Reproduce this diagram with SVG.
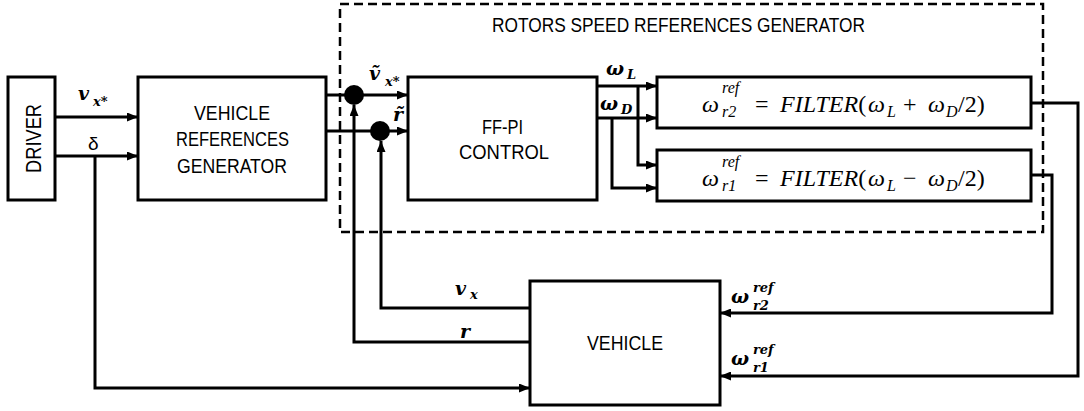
<svg xmlns="http://www.w3.org/2000/svg" width="1084" height="411" viewBox="0 0 1084 411">
<defs>
<marker id="ah" markerUnits="userSpaceOnUse" markerWidth="11" markerHeight="9" refX="11" refY="4.5" orient="auto">
<path d="M0,0 L11,4.5 L0,9 z" fill="#000"/>
</marker>
<style>
.box{fill:#fff;stroke:#000;stroke-width:3}
.ln{fill:none;stroke:#000;stroke-width:3}
.arr{fill:none;stroke:#000;stroke-width:3;marker-end:url(#ah)}
.t{font-family:"Liberation Sans",Arial,sans-serif;font-size:20px;fill:#000}
.m{font-family:"Liberation Serif","DejaVu Serif",serif;font-style:italic;font-size:24px;fill:#000}
.mu{font-family:"Liberation Serif","DejaVu Serif",serif;font-size:24px;fill:#000}
.ms{font-family:"Liberation Serif","DejaVu Serif",serif;font-style:italic;font-size:16px;fill:#000}
.b{font-family:"DejaVu Serif","Liberation Serif",serif;font-style:italic;font-weight:bold;font-size:19px;fill:#000}
.bs{font-family:"DejaVu Serif","Liberation Serif",serif;font-style:italic;font-weight:bold;font-size:13px;fill:#000}
</style>
</defs>
<rect width="1084" height="411" fill="#fff"/>

<g id="rotors-group">
<rect x="340" y="4" width="703" height="228" fill="none" stroke="#000" stroke-width="2.5" stroke-dasharray="9 5"/>
<text class="t" x="492" y="32" textLength="373" lengthAdjust="spacingAndGlyphs">ROTORS SPEED REFERENCES GENERATOR</text>
</g>

<g id="connectors">
<path class="arr" d="M55,117 H138"/>
<path class="arr" d="M55,156 H138"/>
<path class="arr" d="M95,156 V388 H530"/>
<path class="arr" d="M326,95 H408"/>
<path class="arr" d="M326,131 H408"/>
<path class="arr" d="M530,308 H381 V141"/>
<path class="arr" d="M530,342 H354 V105"/>
<path class="arr" d="M597,86 H657"/>
<path class="arr" d="M638,86 V165 H657"/>
<path class="arr" d="M597,118 H657"/>
<path class="arr" d="M612,118 V188 H657"/>
<path class="arr" d="M1031,103 H1078 V376 H720"/>
<path class="arr" d="M1031,175 H1052 V313 H720"/>
<circle cx="354" cy="95" r="10" fill="#000"/>
<circle cx="380" cy="131" r="10" fill="#000"/>
<text class="b" x="78" y="100">v</text><text class="bs" x="93" y="106">x*</text>
<text class="t" x="88" y="150" style="font-size:19px">δ</text>
<text class="b" x="369" y="80">v&#x303;</text><text class="bs" x="385" y="86">x*</text>
<text class="b" x="393" y="121">r&#x303;</text>
<text class="b" x="606" y="75">ω</text><text class="bs" x="627" y="79">L</text>
<text class="b" x="600" y="110">ω</text><text class="bs" x="621" y="114">D</text>
<text class="b" x="455" y="295">v</text><text class="bs" x="470" y="299">x</text>
<text class="b" x="460" y="338">r</text>
<text class="b" x="731" y="303">ω</text><text class="bs" x="753" y="292">ref</text><text class="bs" x="753" y="310">r2</text>
<text class="b" x="731" y="365">ω</text><text class="bs" x="753" y="354">ref</text><text class="bs" x="753" y="372">r1</text>
</g>

<g id="driver">
<rect class="box" x="8" y="77" width="47" height="123"/>
<text class="t" transform="translate(41,138.5) rotate(-90)" text-anchor="middle" textLength="69" lengthAdjust="spacingAndGlyphs" style="font-size:22px">DRIVER</text>
</g>

<g id="vehicle-references-generator">
<rect class="box" x="138" y="77" width="188" height="123"/>
<text class="t" x="194" y="120" textLength="76" lengthAdjust="spacingAndGlyphs">VEHICLE</text>
<text class="t" x="176" y="146" textLength="113" lengthAdjust="spacingAndGlyphs">REFERENCES</text>
<text class="t" x="177" y="173" textLength="110" lengthAdjust="spacingAndGlyphs">GENERATOR</text>
</g>

<g id="ff-pi-control">
<rect class="box" x="408" y="77" width="189" height="123"/>
<text class="t" x="482" y="134" textLength="41" lengthAdjust="spacingAndGlyphs">FF-PI</text>
<text class="t" x="459" y="159" textLength="90" lengthAdjust="spacingAndGlyphs">CONTROL</text>
</g>

<g id="filter-r2">
<rect class="box" x="657" y="77" width="374" height="51"/>
<text class="m" x="702" y="112">ω</text>
<text class="ms" x="722" y="93">ref</text>
<text class="ms" x="722" y="117">r2</text>
<text class="mu" x="755" y="112">=</text>
<text class="m" x="780" y="112">FILTER<tspan font-style="normal">(</tspan></text>
<text class="m" x="868" y="112">ω</text>
<text class="ms" x="887" y="117">L</text>
<text class="mu" x="903" y="112">+</text>
<text class="m" x="928" y="112">ω</text>
<text class="ms" x="946" y="117">D</text>
<text class="mu" x="958" y="112">/2)</text>
</g>

<g id="filter-r1">
<rect class="box" x="657" y="150" width="374" height="51"/>
<text class="m" x="702" y="186">ω</text>
<text class="ms" x="722" y="167">ref</text>
<text class="ms" x="722" y="191">r1</text>
<text class="mu" x="755" y="186">=</text>
<text class="m" x="780" y="186">FILTER<tspan font-style="normal">(</tspan></text>
<text class="m" x="868" y="186">ω</text>
<text class="ms" x="887" y="191">L</text>
<text class="mu" x="903" y="186">−</text>
<text class="m" x="928" y="186">ω</text>
<text class="ms" x="946" y="191">D</text>
<text class="mu" x="958" y="186">/2)</text>
</g>

<g id="vehicle">
<rect class="box" x="530" y="281" width="190" height="124"/>
<text class="t" x="587" y="350" textLength="76" lengthAdjust="spacingAndGlyphs">VEHICLE</text>
</g>
</svg>
